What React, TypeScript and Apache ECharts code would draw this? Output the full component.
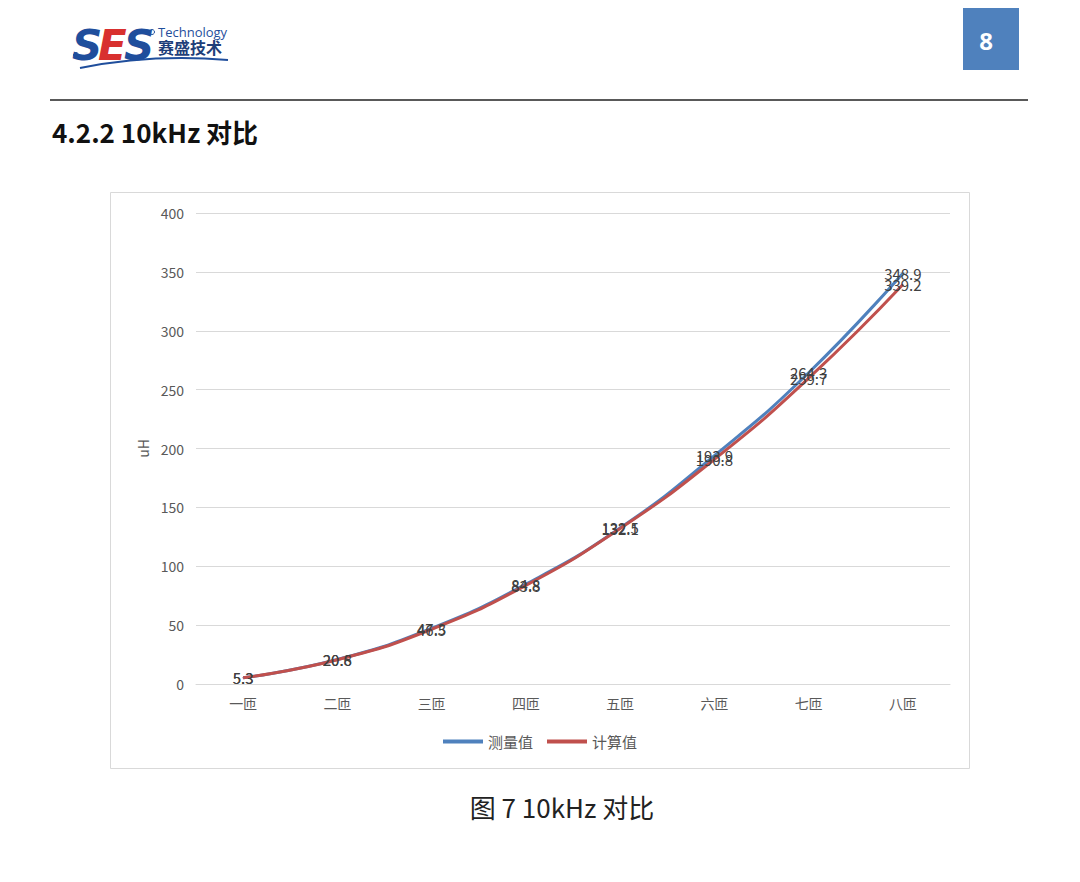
import React, { useEffect, useRef } from "react";
import * as echarts from "echarts";

const categories = ["一匝", "二匝", "三匝", "四匝", "五匝", "六匝", "七匝", "八匝"];
const measured = [5.3, 20.8, 47.3, 84.8, 132.5, 193.9, 264.3, 348.9];
const calculated = [5.3, 20.6, 46.5, 83.8, 132.1, 190.8, 259.7, 339.2];
const seriesNames = ["测量值", "计算值"];
const yTicks = { min: 0, max: 400, interval: 50 };

const FONT = "'Noto Sans CJK SC', 'Open Sans', sans-serif";

export default function App() {
  const ref = useRef<HTMLDivElement>(null);
  useEffect(() => {
    if (!ref.current) return;
    const chart = echarts.init(ref.current, undefined, { renderer: "svg" });
    const labelStyle = {
      show: true,
      position: "inside" as const,
      color: "#404040",
      fontSize: 15,
      fontFamily: FONT,
    };
    chart.setOption({
      animation: false,
      backgroundColor: "#ffffff",
      textStyle: { fontFamily: FONT },
      grid: { left: 196, right: 130, top: 213, bottom: 198, containLabel: false },
      legend: {
        data: seriesNames,
        top: 729,
        left: "center",
        itemWidth: 40,
        itemHeight: 4,
        itemGap: 14,
        icon: "rect",
        textStyle: { color: "#595959", fontSize: 15, fontFamily: FONT },
      },
      xAxis: {
        type: "category",
        data: categories,
        boundaryGap: true,
        axisLine: { lineStyle: { color: "#d9d9d9" } },
        axisTick: { show: false },
        axisLabel: { color: "#595959", fontSize: 14, margin: 12, fontFamily: FONT },
      },
      yAxis: {
        type: "value",
        min: yTicks.min,
        max: yTicks.max,
        interval: yTicks.interval,
        name: "uH",
        nameLocation: "middle",
        nameRotate: 90,
        nameGap: 46,
        nameTextStyle: { color: "#595959", fontSize: 14, fontFamily: FONT },
        axisLine: { show: false },
        axisTick: { show: false },
        axisLabel: { color: "#595959", fontSize: 14, margin: 12, fontFamily: FONT },
        splitLine: { lineStyle: { color: "#d9d9d9" } },
      },
      series: [
        {
          name: seriesNames[0],
          type: "line",
          data: measured,
          smooth: true,
          symbol: "circle",
          symbolSize: 1,
          lineStyle: { color: "#4f81bd", width: 3 },
          itemStyle: { color: "#4f81bd" },
          label: labelStyle,
        },
        {
          name: seriesNames[1],
          type: "line",
          data: calculated,
          smooth: true,
          symbol: "circle",
          symbolSize: 1,
          lineStyle: { color: "#c0504d", width: 3 },
          itemStyle: { color: "#c0504d" },
          label: labelStyle,
        },
      ],
      graphic: [
        {
          type: "rect",
          shape: { x: 110.5, y: 192.5, width: 859, height: 576 },
          style: { fill: "none", stroke: "#d9d9d9", lineWidth: 1 },
          z: -1,
        },
        {
          type: "text",
          x: 72,
          y: 24,
          style: { text: "S", font: "italic bold 42px 'DejaVu Sans', sans-serif", fill: "#1f4e9c" },
        },
        {
          type: "text",
          x: 98,
          y: 24,
          style: { text: "E", font: "italic bold 42px 'DejaVu Sans', sans-serif", fill: "#d8302f" },
        },
        {
          type: "text",
          x: 124,
          y: 24,
          style: { text: "S", font: "italic bold 42px 'DejaVu Sans', sans-serif", fill: "#1f4e9c" },
        },
        {
          type: "text",
          x: 158,
          y: 25,
          style: { text: "Technology", font: "13px 'Open Sans', sans-serif", fill: "#1f4e9c" },
        },
        {
          type: "text",
          x: 158,
          y: 39,
          style: { text: "赛盛技术", font: "bold 16px 'Noto Sans CJK SC', sans-serif", fill: "#1f3f7a" },
        },
        {
          type: "bezierCurve",
          shape: { x1: 80, y1: 68, x2: 228, y2: 60, cpx1: 130, cpy1: 58, cpx2: 180, cpy2: 56 },
          style: { stroke: "#1f4e9c", lineWidth: 2, fill: "none" },
        },
        { type: "circle", shape: { cx: 76, cy: 55, r: 2.5 }, style: { fill: "none", stroke: "#1f4e9c", lineWidth: 1 } },
        { type: "circle", shape: { cx: 152, cy: 32, r: 2.5 }, style: { fill: "none", stroke: "#1f4e9c", lineWidth: 1 } },
        {
          type: "rect",
          shape: { x: 963, y: 8, width: 56, height: 62 },
          style: { fill: "#4f81bd" },
        },
        {
          type: "text",
          x: 986,
          y: 40,
          style: {
            text: "8",
            font: "bold 24px 'Open Sans', sans-serif",
            fill: "#ffffff",
            align: "center",
            verticalAlign: "middle",
          },
        },
        {
          type: "line",
          shape: { x1: 50, y1: 100, x2: 1028, y2: 100 },
          style: { stroke: "#222222", lineWidth: 1.5 },
        },
        {
          type: "text",
          x: 52,
          y: 131,
          style: {
            text: "4.2.2 10kHz 对比",
            font: "bold 26px 'Noto Sans CJK SC', sans-serif",
            fill: "#111111",
            verticalAlign: "middle",
          },
        },
        {
          type: "text",
          x: 562,
          y: 806,
          style: {
            text: "图 7 10kHz 对比",
            font: "26px 'Noto Sans CJK SC', sans-serif",
            fill: "#222222",
            align: "center",
            verticalAlign: "middle",
          },
        },
      ],
    });
    return () => chart.dispose();
  }, []);
  return (
    <div
      ref={ref}
      style={{ position: "fixed", left: 0, top: 0, width: 1080, height: 882 }}
    />
  );
}
